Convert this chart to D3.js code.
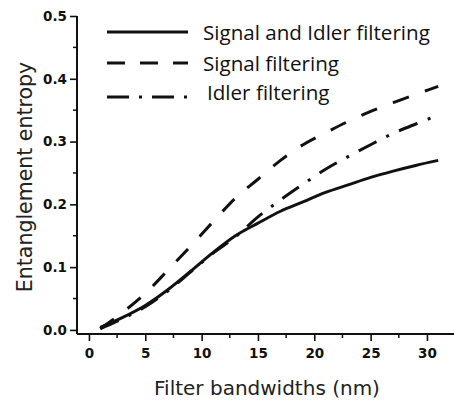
<!DOCTYPE html>
<head>
<meta charset="utf-8" />
<style>
  body { margin: 0; background: #fff; }
  svg { display: block; }
  .tick text { font: bold 13.5px "DejaVu Sans", sans-serif; fill: #111; }
  .ttl { font-family: "DejaVu Sans", sans-serif; fill: #222; }
  .leg { font-family: "Open Sans", "Noto Sans", sans-serif; fill: #111; }
</style>
</head>
<body>
<div id="chart"></div>
<script src="https://cdnjs.cloudflare.com/ajax/libs/d3/7.8.5/d3.min.js"></script>
<script>
// filter bandwidth (nm)
var bandwidths = [1, 3, 5, 7, 9, 11, 13, 15, 17, 19, 21, 23, 25, 27, 29, 31];
// entanglement entropy
var bothFiltering   = [0.004, 0.020, 0.039, 0.064, 0.093, 0.123, 0.150, 0.170, 0.189, 0.204, 0.219, 0.231, 0.243, 0.253, 0.262, 0.270];
var signalFiltering = [0.002, 0.028, 0.058, 0.095, 0.133, 0.172, 0.210, 0.240, 0.270, 0.295, 0.314, 0.332, 0.348, 0.362, 0.375, 0.388];
var idlerFiltering  = [0.002, 0.018, 0.037, 0.062, 0.092, 0.122, 0.148, 0.180, 0.207, 0.232, 0.256, 0.276, 0.295, 0.313, 0.328, 0.342];
var xTicks = [0, 5, 10, 15, 20, 25, 30];
var yTicks = [0.0, 0.1, 0.2, 0.3, 0.4, 0.5];
var seriesNames = ['Signal and Idler filtering', 'Signal filtering', 'Idler filtering'];

var W = 454, H = 403;
var svg = d3.select('#chart').append('svg').attr('width', W).attr('height', H);

var x = d3.scaleLinear().domain([-1.06, 32.4]).range([77, 454]);
var y = d3.scaleLinear().domain([-0.0065, 0.5]).range([334, 16]);

// axes
var xAxis = d3.axisBottom(x).tickValues(xTicks).tickSize(7).tickPadding(7).tickFormat(d3.format('d'));
var yAxis = d3.axisLeft(y).tickValues(yTicks).tickSize(7).tickPadding(3).tickFormat(d3.format('.1f'));

var gx = svg.append('g').attr('transform', 'translate(0,334)').call(xAxis);
var gy = svg.append('g').attr('transform', 'translate(77,0)').call(yAxis);
[gx, gy].forEach(g => {
  g.select('.domain').attr('stroke', '#111').attr('stroke-width', 2);
  g.selectAll('.tick line').attr('stroke', '#111').attr('stroke-width', 1.6);
});
gx.select('.domain').attr('d', 'M77,0H454');
gy.select('.domain').attr('d', 'M0,' + y(0.5) + 'V334');

// minor ticks
svg.append('g').selectAll('line')
  .data(d3.range(2.5, 31, 5))
  .join('line')
  .attr('x1', d => x(d)).attr('x2', d => x(d))
  .attr('y1', 334).attr('y2', 338)
  .attr('stroke', '#111').attr('stroke-width', 1.5);
svg.append('g').selectAll('line')
  .data(d3.range(0.05, 0.5, 0.1))
  .join('line')
  .attr('x1', 77).attr('x2', 73)
  .attr('y1', d => y(d)).attr('y2', d => y(d))
  .attr('stroke', '#111').attr('stroke-width', 1.5);

// titles
svg.append('text').attr('class', 'ttl')
  .attr('x', 267).attr('y', 395).attr('text-anchor', 'middle')
  .attr('font-size', 20).text('Filter bandwidths (nm)');
svg.append('text').attr('class', 'ttl')
  .attr('transform', 'translate(32,177) rotate(-90)').attr('text-anchor', 'middle')
  .attr('font-size', 20.5).text('Entanglement entropy');

// curves
var dashes = ['none', '17,17', '20,11,3,11'];
var series = [bothFiltering, signalFiltering, idlerFiltering];
var line = d3.line()
  .x((d, i) => x(bandwidths[i]))
  .y(d => y(d))
  .curve(d3.curveMonotoneX);

svg.append('g').selectAll('path')
  .data(series)
  .join('path')
  .attr('d', line)
  .attr('fill', 'none')
  .attr('stroke', '#111')
  .attr('stroke-width', 3)
  .attr('stroke-dasharray', (d, i) => dashes[i]);

// legend
var legendDash = ['none', '18,15', '22,10,3,10'];
var lineY = [32, 63, 97], textY = [40, 70.5, 100];
var leg = svg.append('g').selectAll('g')
  .data(seriesNames)
  .join('g');
leg.append('line')
  .attr('x1', 107).attr('x2', 188)
  .attr('y1', (d, i) => lineY[i]).attr('y2', (d, i) => lineY[i])
  .attr('stroke', '#111').attr('stroke-width', 3)
  .attr('stroke-dasharray', (d, i) => legendDash[i]);
leg.append('text').attr('class', 'leg')
  .attr('x', (d, i) => i == 2 ? 207 : 203).attr('y', (d, i) => textY[i])
  .attr('font-size', 20.6)
  .text(d => d);
</script>
</body>
